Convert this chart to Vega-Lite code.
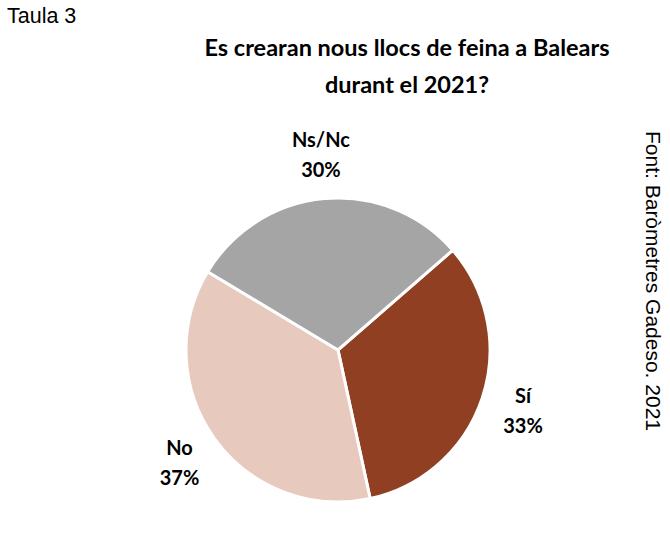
{
  "$schema": "https://vega.github.io/schema/vega-lite/v6.json",
  "background": "white",
  "padding": {"left": 7, "top": 6, "right": 0, "bottom": 0},
  "title": {"text": "Taula 3", "anchor": "start", "frame": "bounds", "font": "Liberation Sans", "fontSize": 21.5, "fontWeight": "normal", "color": "#000000", "offset": 9},
  "config": {"view": {"stroke": null}},
  "spacing": 0,
  "hconcat": [
    {
      "width": 31,
      "height": 10,
      "data": {"values": []},
      "mark": "point"
    },
    {
      "width": 600,
      "height": 486,
      "title": {"text": ["Es crearan nous llocs de feina a Balears", "durant el 2021?"], "anchor": "middle", "font": "Lato", "fontWeight": "bold", "fontSize": 23.5, "lineHeight": 37, "color": "#000000", "dx": 69, "offset": 10},
      "data": {"values": [
        {"cat": "Sí", "value": 33, "ord": 1, "label": "Sí\n33%"},
        {"cat": "No", "value": 37, "ord": 2, "label": "No\n37%"},
        {"cat": "Ns/Nc", "value": 30, "ord": 3, "label": "Ns/Nc\n30%"}
      ]},
      "layer": [
        {
          "mark": {"type": "arc", "outerRadius": 152, "stroke": "white", "strokeWidth": 3},
          "encoding": {
            "theta": {"field": "value", "type": "quantitative", "stack": true, "scale": {"range": [0.855, 7.138]}},
            "color": {"field": "cat", "type": "nominal", "scale": {"domain": ["Sí", "No", "Ns/Nc"], "range": ["#903F23", "#E7CABD", "#A5A5A5"]}, "legend": null},
            "order": {"field": "ord", "type": "quantitative"}
          }
        },
        {
          "mark": {"type": "text", "radius": 195, "font": "Lato", "fontWeight": "bold", "fontSize": 20, "lineBreak": "\n", "lineHeight": 30, "align": "center", "baseline": "middle", "dy": -15, "color": "#000000"},
          "encoding": {
            "theta": {"field": "value", "type": "quantitative", "stack": true, "scale": {"range": [0.855, 7.138]}},
            "order": {"field": "ord", "type": "quantitative"},
            "text": {"field": "label", "type": "nominal"}
          }
        }
      ]
    },
    {
      "width": 28,
      "height": 348,
      "data": {"values": [{"src": "Font: Baròmetres Gadeso. 2021"}]},
      "mark": {"type": "text", "angle": 90, "font": "Liberation Sans", "fontSize": 21, "align": "center", "baseline": "middle", "color": "#000000"},
      "encoding": {"text": {"field": "src", "type": "nominal"}}
    }
  ]
}
